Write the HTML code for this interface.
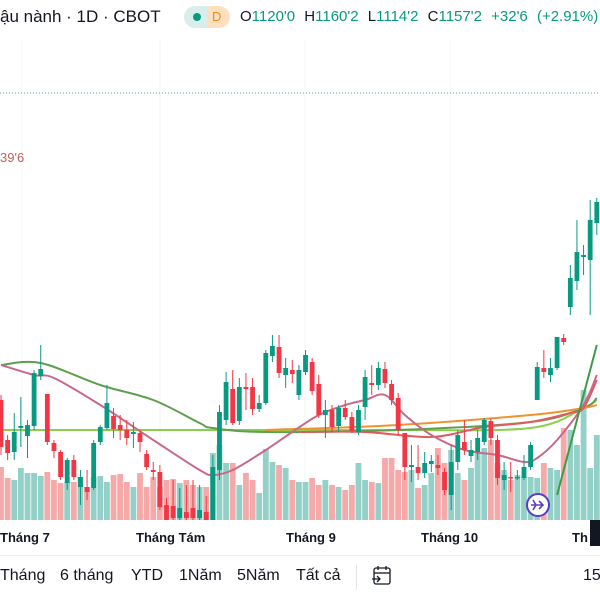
<!DOCTYPE html>
<html><head><meta charset="utf-8"><style>
body{margin:0;width:600px;height:600px;overflow:hidden;background:#fff;font-family:"Liberation Sans","Noto Sans CJK SC",sans-serif;}
#wrap{position:relative;width:600px;height:600px;}
.t{position:absolute;white-space:nowrap;}
</style></head><body><div id="wrap">
<svg id="chart" width="600" height="600" style="position:absolute;left:0;top:0"></svg>
<div class="t" style="left:0;top:7px;font-size:17px;color:#131722">ậu nành · 1D · CBOT</div>
<div class="t" style="left:184px;top:6px;width:46px;height:22px;border-radius:11px;background:linear-gradient(90deg,#d8eeea 50%,#fde0c0 50%)">
<span style="position:absolute;left:9px;top:7px;width:8px;height:8px;border-radius:4px;background:#089981"></span>
<span style="position:absolute;left:28px;top:3px;font-size:13px;color:#f08c1a">D</span></div>
<div class="t" style="left:240px;top:8px;font-size:15px;color:#131722;word-spacing:5px">O<span style="color:#089981">1120'0</span> H<span style="color:#089981">1160'2</span> L<span style="color:#089981">1114'2</span> C<span style="color:#089981">1157'2</span> <span style="color:#089981">+32'6 (+2.91%)</span></div>
<div class="t" style="left:0;top:150px;font-size:13px;color:#c0605e">39'6</div>
<div class="t" style="left:0;top:530px;font-size:13px;font-weight:bold;color:#131722">Tháng 7</div>
<div class="t" style="left:136px;top:530px;font-size:13px;font-weight:bold;color:#131722">Tháng Tám</div>
<div class="t" style="left:286px;top:530px;font-size:13px;font-weight:bold;color:#131722">Tháng 9</div>
<div class="t" style="left:421px;top:530px;font-size:13px;font-weight:bold;color:#131722">Tháng 10</div>
<div class="t" style="left:572px;top:530px;font-size:13px;font-weight:bold;color:#131722">Th</div>
<div class="t" style="left:590px;top:520px;width:10px;height:26px;background:#131722"></div>
<div class="t" style="left:0;top:555px;width:600px;height:1px;background:#eceef2"></div>
<div class="t" style="left:0;top:567px;font-size:16px;color:#131722">Tháng</div>
<div class="t" style="left:60px;top:567px;font-size:16px;color:#131722">6 tháng</div>
<div class="t" style="left:131px;top:567px;font-size:16px;color:#131722">YTD</div>
<div class="t" style="left:179px;top:567px;font-size:16px;color:#131722">1Năm</div>
<div class="t" style="left:237px;top:567px;font-size:16px;color:#131722">5Năm</div>
<div class="t" style="left:296px;top:567px;font-size:16px;color:#131722">Tất cả</div>
<div class="t" style="left:356px;top:565px;width:1px;height:25px;background:#e0e3eb"></div>
<svg class="t" style="left:371px;top:564px" width="22" height="24"><rect x="3" y="4" width="16" height="16" rx="2" fill="none" stroke="#131722" stroke-width="1.3"/><line x1="3" y1="9" x2="19" y2="9" stroke="#131722" stroke-width="1.3"/><line x1="7" y1="2" x2="7" y2="6" stroke="#131722" stroke-width="1.3"/><line x1="15" y1="2" x2="15" y2="6" stroke="#131722" stroke-width="1.3"/><path d="M1 15h8m-3-3l3 3-3 3" fill="none" stroke="#131722" stroke-width="1.3"/></svg>
<div class="t" style="left:583px;top:567px;font-size:16px;color:#131722">15</div>
</div>
<script>
const opens=[1057,1037,1031,1043,1039,1044,1069,1060,1035.5,1031,1015.5,1027,1013.5,1013.5,1013,1036,1043,1049,1044.5,1042,1040,1040.5,1030,1022,1021,1004.5,1004,998,1001,1003,998,1001,997,1022,1047,1062.5,1046.5,1063.5,1063.5,1052.5,1055.5,1079,1083.5,1069.5,1072,1059.5,1071,1076,1065,1049.5,1052,1044,1053,1048.5,1041,1053.5,1065.5,1064.5,1072.5,1065,1058,1040.5,1023.5,1023.5,1020.5,1025,1024.5,1021,1009.5,1026,1036,1029,1031,1036,1046.5,1037,1017,1018.5,1018,1018,1023.5,1057,1073,1069.5,1073,1088,1103.5,1116.5,1128.5,1127,1145.5];
const highs=[1059.5,1039.5,1050.5,1058.5,1047,1072,1084.5,1060,1037,1032,1028,1029.5,1022,1022,1037,1044.5,1064.5,1053,1049.5,1047,1046,1042,1032,1026,1024.5,1008,1017,1013,1014.5,1017,1014.5,1009,1029.5,1054.5,1071,1072,1068,1070.5,1068,1059.5,1082,1089.5,1089.5,1078,1077,1074.5,1082,1078,1069.5,1057,1054.5,1054.5,1057,1051,1054.5,1072,1074.5,1076,1076,1067,1060.5,1040.5,1034.5,1034.5,1031,1029.5,1029.5,1023,1034.5,1042,1047,1037,1042,1048,1048,1039.5,1026,1026,1022,1029.5,1036,1076,1082,1078,1088.5,1090,1124.5,1147,1134.5,1157,1158];
const lows=[1029.5,1027,1027,1033.5,1028,1042,1067,1034.5,1028,1017,1012,1017,1004.5,1007,1012,1034.5,1042,1038,1037,1034.5,1033,1031,1022,1017,1002,997,997,997,997,997,997,997,997,1017,1044.5,1044.5,1044.5,1052,1049.5,1051,1054.5,1076,1068,1063,1065.5,1057,1069.5,1059.5,1048,1038,1041,1041,1047,1040.5,1039.5,1047,1059.5,1062,1063,1054.5,1039.5,1017,1016,1017,1018,1021,1019.5,1009.5,1002,1022,1029.5,1026,1027,1034.5,1034.5,1014.5,1012,1011,1017,1017,1022,1057,1068,1066,1072,1084.5,1099.5,1112,1119.5,1099.5,1139.5];
const closes=[1033.5,1030.5,1041,1044,1044.5,1070.5,1072.5,1036,1031.5,1018.5,1027,1018.5,1018.5,1011,1035.5,1043.5,1055.5,1042.5,1042,1038,1041,1036,1023.5,1021,1003.5,997,998,1003,998,998,1002,997,1023.5,1051,1066,1045.5,1063.5,1062.5,1052.5,1055.5,1080.5,1084,1070.5,1073,1070,1072,1079.5,1061.5,1049.5,1052,1043.5,1053,1048.5,1041.5,1052,1068.5,1064.5,1073,1065.5,1057,1042,1023.5,1024.5,1020.5,1025.5,1026.5,1023,1012,1026,1039.5,1032,1032,1038,1047,1038,1018,1019.5,1018,1018.5,1023.5,1034.5,1073.5,1071,1073,1088.5,1086,1118,1131,1129.5,1147,1156];
const volumes=[53,42,40,52,47,47,44,48,40,37,38,38,43,33,43,44,38,45,46,38,33,47,33,43,33,40,41,37,40,35,33,33,67,75,57,57,35,47,40,27,71,58,55,52,40,38,38,42,35,40,35,33,30,35,57,40,38,37,62,62,50,48,50,32,35,47,72,57,70,47,40,52,67,72,80,57,50,40,45,43,43,42,57,52,50,92,90,75,130,52,85];
const maIdx=[0,5,8,15,23,30,32,35,40,44,48,52,55,58,61,65,70,75,79,81,84,88,90];
const ma20=[1074.5,1069.5,1068,1054.5,1037,1022,1019.5,1022,1032,1041,1049.5,1054.5,1057,1059.5,1049.5,1039.5,1032,1029.5,1026,1028,1037,1054.5,1069.5];
const ma50Idx=[0,6,15,23,30,32,40,60,80,88,90];
const ma50=[1074.5,1075.5,1064.5,1057,1045.5,1043,1041,1042,1046,1053,1058];
const ma100Idx=[0,40,60,80,88,90];
const ma100=[1042,1042,1042,1043,1053,1057];
const ma200Idx=[40,60,80,88,90];
const ma200=[1042,1044.5,1049.5,1053,1054.5];
const maRedIdx=[45,55,65,73,80,86,88,90];
const maRed=[1041,1041,1038.5,1043.5,1046,1050.5,1053,1067];
const ma5Idx=[84,90];
const ma5=[1009.5,1084.5];

const svg=document.getElementById('chart');
const NS='http://www.w3.org/2000/svg';
const xS=i=>1+i*6.62;
const yS=p=>200+(1157-p)*2;
const vS=v=>520-v;
function mk(t,a){const e=document.createElementNS(NS,t);for(const k in a)e.setAttribute(k,a[k]);svg.appendChild(e);return e;}
[22,160,305,450].forEach((x,k)=>{const g=mk('line',{x1:x,y1:40,x2:x,y2:520,stroke:'#f3f4f6','stroke-width':1});

});
const dl=mk('line',{x1:0,y1:93,x2:600,y2:93,stroke:'#4aa898','stroke-width':1,'stroke-dasharray':'1 2'});


volumes.forEach((v,i)=>{const up=closes[i]>=opens[i];
const r=mk('rect',{x:xS(i)-2.9,y:vS(v),width:5.8,height:520-vS(v),fill:up?'#92d0c8':'#f5a9a8'});

});
function line(idx,vals,col,name,w){
const P=idx.map((i,k)=>[xS(i),yS(vals[k])]);
let d='M'+P[0][0]+','+P[0][1];
for(let k=0;k<P.length-1;k++){const p0=P[Math.max(0,k-1)],p1=P[k],p2=P[k+1],p3=P[Math.min(P.length-1,k+2)];
const c1=[p1[0]+(p2[0]-p0[0])/6,p1[1]+(p2[1]-p0[1])/6],c2=[p2[0]-(p3[0]-p1[0])/6,p2[1]-(p3[1]-p1[1])/6];
d+=' C'+c1+' '+c2+' '+p2;}
const p=mk('path',{d:d,fill:'none',stroke:col,'stroke-width':w||2,'stroke-linejoin':'round'});

}
line(ma100Idx,ma100,'#8ccf4d','ma-100-line');
line(ma50Idx,ma50,'#5e9f4e','ma-50-line');
line(ma200Idx,ma200,'#f0922e','ma-200-line');
line(maRedIdx,maRed,'#e05a5e','ma-red-line');
line(maIdx,ma20,'#c8698a','ma-20-line');
line(ma5Idx,ma5,'#3f9a48','ma-5-line');
opens.forEach((o,i)=>{const c=closes[i];const up=c>=o;const col=up?'#089981':'#f23645';const x=xS(i);
const w=mk('line',{x1:x,y1:yS(highs[i]),x2:x,y2:yS(lows[i]),stroke:col,'stroke-width':1});


const t=yS(Math.max(o,c)),b=yS(Math.min(o,c));
const r=mk('rect',{x:x-2.4,y:t,width:4.8,height:Math.max(1.5,b-t),fill:col});

});
const ic=mk('circle',{cx:538,cy:505,r:11,fill:'#fff',stroke:'#5b3cc4','stroke-width':2});


const ia=mk('path',{d:'M531 505h12m-4-4l4 4-4 4M533 500l3 5-3 5',fill:'none',stroke:'#5b3cc4','stroke-width':1.6});


</script></body></html>
